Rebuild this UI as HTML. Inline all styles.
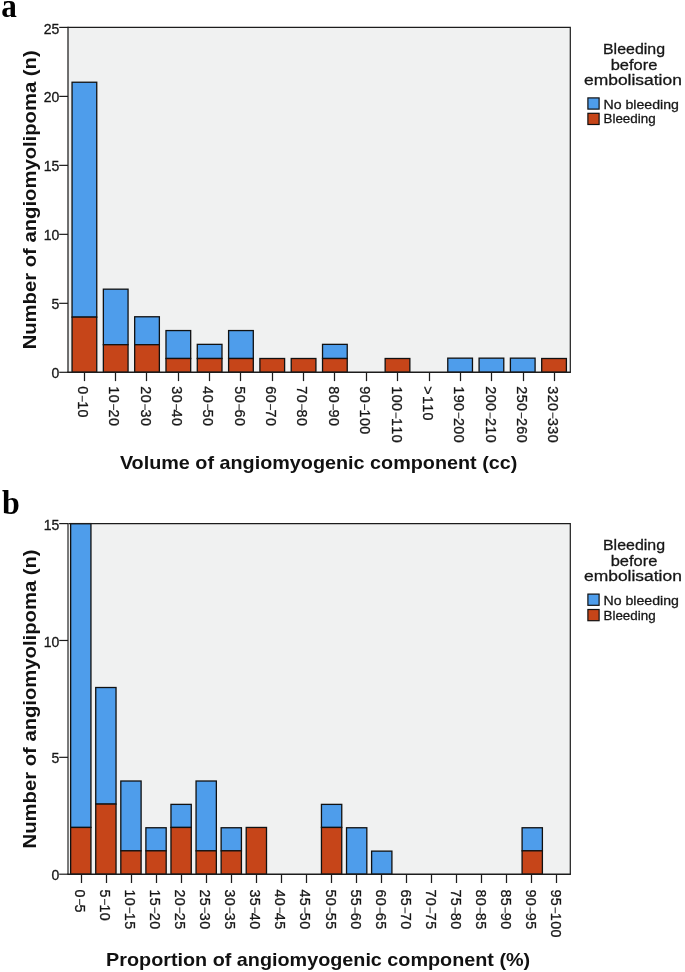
<!DOCTYPE html>
<html><head><meta charset="utf-8"><style>
html,body{margin:0;padding:0;background:#fff;}
svg{display:block;will-change:transform;}
text{font-family:"Liberation Sans", sans-serif;}
.r{fill:#161616;stroke:#161616;stroke-width:0.3px;}
</style></head><body>
<svg width="685" height="972" viewBox="0 0 685 972">
<rect width="685" height="972" fill="#fff"/>
<rect x="68.0" y="27.4" width="502.29999999999995" height="344.90000000000003" fill="#f0f1f1"/>
<rect x="72.05" y="82.23" width="24.70" height="234.88" fill="#4e9deb" stroke="#111" stroke-width="1.3"/>
<rect x="72.05" y="317.12" width="24.70" height="55.18" fill="#c64519" stroke="#111" stroke-width="1.3"/>
<rect x="103.36" y="289.17" width="24.70" height="55.53" fill="#4e9deb" stroke="#111" stroke-width="1.3"/>
<rect x="103.36" y="344.71" width="24.70" height="27.59" fill="#c64519" stroke="#111" stroke-width="1.3"/>
<rect x="134.67" y="316.77" width="24.70" height="27.94" fill="#4e9deb" stroke="#111" stroke-width="1.3"/>
<rect x="134.67" y="344.71" width="24.70" height="27.59" fill="#c64519" stroke="#111" stroke-width="1.3"/>
<rect x="165.98" y="330.56" width="24.70" height="27.94" fill="#4e9deb" stroke="#111" stroke-width="1.3"/>
<rect x="165.98" y="358.50" width="24.70" height="13.80" fill="#c64519" stroke="#111" stroke-width="1.3"/>
<rect x="197.29" y="344.36" width="24.70" height="14.15" fill="#4e9deb" stroke="#111" stroke-width="1.3"/>
<rect x="197.29" y="358.50" width="24.70" height="13.80" fill="#c64519" stroke="#111" stroke-width="1.3"/>
<rect x="228.60" y="330.56" width="24.70" height="27.94" fill="#4e9deb" stroke="#111" stroke-width="1.3"/>
<rect x="228.60" y="358.50" width="24.70" height="13.80" fill="#c64519" stroke="#111" stroke-width="1.3"/>
<rect x="259.91" y="358.50" width="24.70" height="13.80" fill="#c64519" stroke="#111" stroke-width="1.3"/>
<rect x="291.22" y="358.50" width="24.70" height="13.80" fill="#c64519" stroke="#111" stroke-width="1.3"/>
<rect x="322.53" y="344.36" width="24.70" height="14.15" fill="#4e9deb" stroke="#111" stroke-width="1.3"/>
<rect x="322.53" y="358.50" width="24.70" height="13.80" fill="#c64519" stroke="#111" stroke-width="1.3"/>
<rect x="385.15" y="358.50" width="24.70" height="13.80" fill="#c64519" stroke="#111" stroke-width="1.3"/>
<rect x="447.77" y="358.15" width="24.70" height="14.15" fill="#4e9deb" stroke="#111" stroke-width="1.3"/>
<rect x="479.08" y="358.15" width="24.70" height="14.15" fill="#4e9deb" stroke="#111" stroke-width="1.3"/>
<rect x="510.39" y="358.15" width="24.70" height="14.15" fill="#4e9deb" stroke="#111" stroke-width="1.3"/>
<rect x="541.70" y="358.50" width="24.70" height="13.80" fill="#c64519" stroke="#111" stroke-width="1.3"/>
<path d="M68.0 27.4H570.3V372.3" fill="none" stroke="#1c1c1c" stroke-width="1.2"/>
<path d="M68.0 26.799999999999997V372.3" fill="none" stroke="#262626" stroke-width="1.3"/>
<path d="M67.4 372.3H570.9" fill="none" stroke="#1c1c1c" stroke-width="1.4"/>
<path d="M59.2 372.30H68.0" stroke="#1c1c1c" stroke-width="1.2"/>
<text x="59.3" y="378.40" text-anchor="end" font-size="14" class="r">0</text>
<path d="M59.2 303.32H68.0" stroke="#1c1c1c" stroke-width="1.2"/>
<text x="59.3" y="309.42" text-anchor="end" font-size="14" class="r">5</text>
<path d="M59.2 234.34H68.0" stroke="#1c1c1c" stroke-width="1.2"/>
<text x="59.3" y="240.44" text-anchor="end" font-size="14" class="r">10</text>
<path d="M59.2 165.36H68.0" stroke="#1c1c1c" stroke-width="1.2"/>
<text x="59.3" y="171.46" text-anchor="end" font-size="14" class="r">15</text>
<path d="M59.2 96.38H68.0" stroke="#1c1c1c" stroke-width="1.2"/>
<text x="59.3" y="102.48" text-anchor="end" font-size="14" class="r">20</text>
<path d="M59.2 27.40H68.0" stroke="#1c1c1c" stroke-width="1.2"/>
<text x="59.3" y="33.50" text-anchor="end" font-size="14" class="r">25</text>
<path d="M84.50 372.3V381.10" stroke="#1c1c1c" stroke-width="1.25"/>
<g transform="translate(77.80,386.90) rotate(90)"><text x="-0.60 14.35 22.70" y="0" font-size="14.3" class="r">010</text><rect x="8.85" y="-5.0" width="6" height="1.1" fill="#333"/></g>
<path d="M115.50 372.3V381.10" stroke="#1c1c1c" stroke-width="1.25"/>
<g transform="translate(109.17,386.90) rotate(90)"><text x="-0.60 7.75 22.70 31.05" y="0" font-size="14.3" class="r">1020</text><rect x="17.20" y="-5.0" width="6" height="1.1" fill="#333"/></g>
<path d="M146.50 372.3V381.10" stroke="#1c1c1c" stroke-width="1.25"/>
<g transform="translate(140.54,386.90) rotate(90)"><text x="-0.60 7.75 22.70 31.05" y="0" font-size="14.3" class="r">2030</text><rect x="17.20" y="-5.0" width="6" height="1.1" fill="#333"/></g>
<path d="M178.50 372.3V381.10" stroke="#1c1c1c" stroke-width="1.25"/>
<g transform="translate(171.91,386.90) rotate(90)"><text x="-0.60 7.75 22.70 31.05" y="0" font-size="14.3" class="r">3040</text><rect x="17.20" y="-5.0" width="6" height="1.1" fill="#333"/></g>
<path d="M209.50 372.3V381.10" stroke="#1c1c1c" stroke-width="1.25"/>
<g transform="translate(203.28,386.90) rotate(90)"><text x="-0.60 7.75 22.70 31.05" y="0" font-size="14.3" class="r">4050</text><rect x="17.20" y="-5.0" width="6" height="1.1" fill="#333"/></g>
<path d="M240.50 372.3V381.10" stroke="#1c1c1c" stroke-width="1.25"/>
<g transform="translate(234.65,386.90) rotate(90)"><text x="-0.60 7.75 22.70 31.05" y="0" font-size="14.3" class="r">5060</text><rect x="17.20" y="-5.0" width="6" height="1.1" fill="#333"/></g>
<path d="M272.50 372.3V381.10" stroke="#1c1c1c" stroke-width="1.25"/>
<g transform="translate(266.02,386.90) rotate(90)"><text x="-0.60 7.75 22.70 31.05" y="0" font-size="14.3" class="r">6070</text><rect x="17.20" y="-5.0" width="6" height="1.1" fill="#333"/></g>
<path d="M303.50 372.3V381.10" stroke="#1c1c1c" stroke-width="1.25"/>
<g transform="translate(297.39,386.90) rotate(90)"><text x="-0.60 7.75 22.70 31.05" y="0" font-size="14.3" class="r">7080</text><rect x="17.20" y="-5.0" width="6" height="1.1" fill="#333"/></g>
<path d="M334.50 372.3V381.10" stroke="#1c1c1c" stroke-width="1.25"/>
<g transform="translate(328.76,386.90) rotate(90)"><text x="-0.60 7.75 22.70 31.05" y="0" font-size="14.3" class="r">8090</text><rect x="17.20" y="-5.0" width="6" height="1.1" fill="#333"/></g>
<path d="M366.50 372.3V381.10" stroke="#1c1c1c" stroke-width="1.25"/>
<g transform="translate(360.13,386.90) rotate(90)"><text x="-0.60 7.75 22.70 31.05 39.40" y="0" font-size="14.3" class="r">90100</text><rect x="17.20" y="-5.0" width="6" height="1.1" fill="#333"/></g>
<path d="M397.50 372.3V381.10" stroke="#1c1c1c" stroke-width="1.25"/>
<g transform="translate(391.50,386.90) rotate(90)"><text x="-0.60 7.75 16.10 31.05 39.40 47.75" y="0" font-size="14.3" class="r">100110</text><rect x="25.55" y="-5.0" width="6" height="1.1" fill="#333"/></g>
<path d="M429.50 372.3V381.10" stroke="#1c1c1c" stroke-width="1.25"/>
<g transform="translate(422.87,386.90) rotate(90)"><text x="-0.60 9.00 17.35 25.70" y="0" font-size="14.3" class="r">&gt;110</text></g>
<path d="M460.50 372.3V381.10" stroke="#1c1c1c" stroke-width="1.25"/>
<g transform="translate(454.24,386.90) rotate(90)"><text x="-0.60 7.75 16.10 31.05 39.40 47.75" y="0" font-size="14.3" class="r">190200</text><rect x="25.55" y="-5.0" width="6" height="1.1" fill="#333"/></g>
<path d="M491.50 372.3V381.10" stroke="#1c1c1c" stroke-width="1.25"/>
<g transform="translate(485.61,386.90) rotate(90)"><text x="-0.60 7.75 16.10 31.05 39.40 47.75" y="0" font-size="14.3" class="r">200210</text><rect x="25.55" y="-5.0" width="6" height="1.1" fill="#333"/></g>
<path d="M523.50 372.3V381.10" stroke="#1c1c1c" stroke-width="1.25"/>
<g transform="translate(516.98,386.90) rotate(90)"><text x="-0.60 7.75 16.10 31.05 39.40 47.75" y="0" font-size="14.3" class="r">250260</text><rect x="25.55" y="-5.0" width="6" height="1.1" fill="#333"/></g>
<path d="M554.50 372.3V381.10" stroke="#1c1c1c" stroke-width="1.25"/>
<g transform="translate(548.35,386.90) rotate(90)"><text x="-0.60 7.75 16.10 31.05 39.40 47.75" y="0" font-size="14.3" class="r">320330</text><rect x="25.55" y="-5.0" width="6" height="1.1" fill="#333"/></g>
<text x="119.9" y="468.8" font-size="19" font-weight="bold" fill="#111" textLength="397.5" lengthAdjust="spacingAndGlyphs">Volume of angiomyogenic component (cc)</text>
<text transform="translate(36.2,199.85) rotate(-90)" text-anchor="middle" font-size="19" font-weight="bold" fill="#111" textLength="299" lengthAdjust="spacingAndGlyphs">Number of angiomyolipoma (n)</text>
<text x="603" y="54.10" font-size="15.3" class="r" textLength="62" lengthAdjust="spacingAndGlyphs">Bleeding</text>
<text x="610.7" y="70.00" font-size="15.3" class="r" textLength="46.7" lengthAdjust="spacingAndGlyphs">before</text>
<text x="584.0" y="85.20" font-size="15.3" class="r" textLength="97.9" lengthAdjust="spacingAndGlyphs">embolisation</text>
<rect x="587.9" y="97.90" width="11.2" height="11.2" fill="#4e9deb" stroke="#111" stroke-width="1.2"/>
<rect x="587.9" y="113.30" width="11.2" height="11.2" fill="#c64519" stroke="#111" stroke-width="1.2"/>
<text x="603.5" y="108.60" font-size="13.6" class="r" textLength="75.4" lengthAdjust="spacingAndGlyphs">No bleeding</text>
<text x="603.5" y="123.40" font-size="13.6" class="r" textLength="52.1" lengthAdjust="spacingAndGlyphs">Bleeding</text>
<text transform="translate(1.2,17.3) scale(0.92,1)" style='font-family:"Liberation Serif", serif' font-size="34" font-weight="bold" fill="#000">a</text>
<rect x="68.0" y="523.6" width="502.29999999999995" height="350.6" fill="#f0f1f1"/>
<rect x="70.65" y="523.60" width="20.30" height="303.85" fill="#4e9deb" stroke="#111" stroke-width="1.3"/>
<rect x="70.65" y="827.45" width="20.30" height="46.75" fill="#c64519" stroke="#111" stroke-width="1.3"/>
<rect x="95.73" y="687.51" width="20.30" height="116.57" fill="#4e9deb" stroke="#111" stroke-width="1.3"/>
<rect x="95.73" y="804.08" width="20.30" height="70.12" fill="#c64519" stroke="#111" stroke-width="1.3"/>
<rect x="120.81" y="781.01" width="20.30" height="69.82" fill="#4e9deb" stroke="#111" stroke-width="1.3"/>
<rect x="120.81" y="850.83" width="20.30" height="23.37" fill="#c64519" stroke="#111" stroke-width="1.3"/>
<rect x="145.89" y="827.75" width="20.30" height="23.07" fill="#4e9deb" stroke="#111" stroke-width="1.3"/>
<rect x="145.89" y="850.83" width="20.30" height="23.37" fill="#c64519" stroke="#111" stroke-width="1.3"/>
<rect x="170.97" y="804.38" width="20.30" height="23.07" fill="#4e9deb" stroke="#111" stroke-width="1.3"/>
<rect x="170.97" y="827.45" width="20.30" height="46.75" fill="#c64519" stroke="#111" stroke-width="1.3"/>
<rect x="196.05" y="781.01" width="20.30" height="69.82" fill="#4e9deb" stroke="#111" stroke-width="1.3"/>
<rect x="196.05" y="850.83" width="20.30" height="23.37" fill="#c64519" stroke="#111" stroke-width="1.3"/>
<rect x="221.13" y="827.75" width="20.30" height="23.07" fill="#4e9deb" stroke="#111" stroke-width="1.3"/>
<rect x="221.13" y="850.83" width="20.30" height="23.37" fill="#c64519" stroke="#111" stroke-width="1.3"/>
<rect x="246.21" y="827.45" width="20.30" height="46.75" fill="#c64519" stroke="#111" stroke-width="1.3"/>
<rect x="321.45" y="804.38" width="20.30" height="23.07" fill="#4e9deb" stroke="#111" stroke-width="1.3"/>
<rect x="321.45" y="827.45" width="20.30" height="46.75" fill="#c64519" stroke="#111" stroke-width="1.3"/>
<rect x="346.53" y="827.75" width="20.30" height="46.45" fill="#4e9deb" stroke="#111" stroke-width="1.3"/>
<rect x="371.61" y="851.13" width="20.30" height="23.07" fill="#4e9deb" stroke="#111" stroke-width="1.3"/>
<rect x="522.09" y="827.75" width="20.30" height="23.07" fill="#4e9deb" stroke="#111" stroke-width="1.3"/>
<rect x="522.09" y="850.83" width="20.30" height="23.37" fill="#c64519" stroke="#111" stroke-width="1.3"/>
<path d="M68.0 523.6H570.3V874.2" fill="none" stroke="#1c1c1c" stroke-width="1.2"/>
<path d="M68.0 523.0V874.2" fill="none" stroke="#5a5a5a" stroke-width="1.6"/>
<path d="M67.4 874.2H570.9" fill="none" stroke="#1c1c1c" stroke-width="1.4"/>
<path d="M59.2 874.20H68.0" stroke="#1c1c1c" stroke-width="1.2"/>
<text x="59.3" y="880.30" text-anchor="end" font-size="14" class="r">0</text>
<path d="M59.2 757.33H68.0" stroke="#1c1c1c" stroke-width="1.2"/>
<text x="59.3" y="763.43" text-anchor="end" font-size="14" class="r">5</text>
<path d="M59.2 640.47H68.0" stroke="#1c1c1c" stroke-width="1.2"/>
<text x="59.3" y="646.57" text-anchor="end" font-size="14" class="r">10</text>
<path d="M59.2 523.60H68.0" stroke="#1c1c1c" stroke-width="1.2"/>
<text x="59.3" y="529.70" text-anchor="end" font-size="14" class="r">15</text>
<path d="M81.50 874.2V883.00" stroke="#1c1c1c" stroke-width="1.25"/>
<g transform="translate(75.20,890.10) rotate(90)"><text x="-0.60 14.35" y="0" font-size="14.3" class="r">05</text><rect x="8.85" y="-5.0" width="6" height="1.1" fill="#333"/></g>
<path d="M106.50 874.2V883.00" stroke="#1c1c1c" stroke-width="1.25"/>
<g transform="translate(100.23,890.10) rotate(90)"><text x="-0.60 14.35 22.70" y="0" font-size="14.3" class="r">510</text><rect x="8.85" y="-5.0" width="6" height="1.1" fill="#333"/></g>
<path d="M131.50 874.2V883.00" stroke="#1c1c1c" stroke-width="1.25"/>
<g transform="translate(125.26,890.10) rotate(90)"><text x="-0.60 7.75 22.70 31.05" y="0" font-size="14.3" class="r">1015</text><rect x="17.20" y="-5.0" width="6" height="1.1" fill="#333"/></g>
<path d="M156.50 874.2V883.00" stroke="#1c1c1c" stroke-width="1.25"/>
<g transform="translate(150.29,890.10) rotate(90)"><text x="-0.60 7.75 22.70 31.05" y="0" font-size="14.3" class="r">1520</text><rect x="17.20" y="-5.0" width="6" height="1.1" fill="#333"/></g>
<path d="M181.50 874.2V883.00" stroke="#1c1c1c" stroke-width="1.25"/>
<g transform="translate(175.32,890.10) rotate(90)"><text x="-0.60 7.75 22.70 31.05" y="0" font-size="14.3" class="r">2025</text><rect x="17.20" y="-5.0" width="6" height="1.1" fill="#333"/></g>
<path d="M206.50 874.2V883.00" stroke="#1c1c1c" stroke-width="1.25"/>
<g transform="translate(200.35,890.10) rotate(90)"><text x="-0.60 7.75 22.70 31.05" y="0" font-size="14.3" class="r">2530</text><rect x="17.20" y="-5.0" width="6" height="1.1" fill="#333"/></g>
<path d="M231.50 874.2V883.00" stroke="#1c1c1c" stroke-width="1.25"/>
<g transform="translate(225.38,890.10) rotate(90)"><text x="-0.60 7.75 22.70 31.05" y="0" font-size="14.3" class="r">3035</text><rect x="17.20" y="-5.0" width="6" height="1.1" fill="#333"/></g>
<path d="M256.50 874.2V883.00" stroke="#1c1c1c" stroke-width="1.25"/>
<g transform="translate(250.41,890.10) rotate(90)"><text x="-0.60 7.75 22.70 31.05" y="0" font-size="14.3" class="r">3540</text><rect x="17.20" y="-5.0" width="6" height="1.1" fill="#333"/></g>
<path d="M281.50 874.2V883.00" stroke="#1c1c1c" stroke-width="1.25"/>
<g transform="translate(275.44,890.10) rotate(90)"><text x="-0.60 7.75 22.70 31.05" y="0" font-size="14.3" class="r">4045</text><rect x="17.20" y="-5.0" width="6" height="1.1" fill="#333"/></g>
<path d="M306.50 874.2V883.00" stroke="#1c1c1c" stroke-width="1.25"/>
<g transform="translate(300.47,890.10) rotate(90)"><text x="-0.60 7.75 22.70 31.05" y="0" font-size="14.3" class="r">4550</text><rect x="17.20" y="-5.0" width="6" height="1.1" fill="#333"/></g>
<path d="M331.50 874.2V883.00" stroke="#1c1c1c" stroke-width="1.25"/>
<g transform="translate(325.50,890.10) rotate(90)"><text x="-0.60 7.75 22.70 31.05" y="0" font-size="14.3" class="r">5055</text><rect x="17.20" y="-5.0" width="6" height="1.1" fill="#333"/></g>
<path d="M356.50 874.2V883.00" stroke="#1c1c1c" stroke-width="1.25"/>
<g transform="translate(350.53,890.10) rotate(90)"><text x="-0.60 7.75 22.70 31.05" y="0" font-size="14.3" class="r">5560</text><rect x="17.20" y="-5.0" width="6" height="1.1" fill="#333"/></g>
<path d="M381.50 874.2V883.00" stroke="#1c1c1c" stroke-width="1.25"/>
<g transform="translate(375.56,890.10) rotate(90)"><text x="-0.60 7.75 22.70 31.05" y="0" font-size="14.3" class="r">6065</text><rect x="17.20" y="-5.0" width="6" height="1.1" fill="#333"/></g>
<path d="M406.50 874.2V883.00" stroke="#1c1c1c" stroke-width="1.25"/>
<g transform="translate(400.59,890.10) rotate(90)"><text x="-0.60 7.75 22.70 31.05" y="0" font-size="14.3" class="r">6570</text><rect x="17.20" y="-5.0" width="6" height="1.1" fill="#333"/></g>
<path d="M431.50 874.2V883.00" stroke="#1c1c1c" stroke-width="1.25"/>
<g transform="translate(425.62,890.10) rotate(90)"><text x="-0.60 7.75 22.70 31.05" y="0" font-size="14.3" class="r">7075</text><rect x="17.20" y="-5.0" width="6" height="1.1" fill="#333"/></g>
<path d="M456.50 874.2V883.00" stroke="#1c1c1c" stroke-width="1.25"/>
<g transform="translate(450.65,890.10) rotate(90)"><text x="-0.60 7.75 22.70 31.05" y="0" font-size="14.3" class="r">7580</text><rect x="17.20" y="-5.0" width="6" height="1.1" fill="#333"/></g>
<path d="M481.50 874.2V883.00" stroke="#1c1c1c" stroke-width="1.25"/>
<g transform="translate(475.68,890.10) rotate(90)"><text x="-0.60 7.75 22.70 31.05" y="0" font-size="14.3" class="r">8085</text><rect x="17.20" y="-5.0" width="6" height="1.1" fill="#333"/></g>
<path d="M506.50 874.2V883.00" stroke="#1c1c1c" stroke-width="1.25"/>
<g transform="translate(500.71,890.10) rotate(90)"><text x="-0.60 7.75 22.70 31.05" y="0" font-size="14.3" class="r">8590</text><rect x="17.20" y="-5.0" width="6" height="1.1" fill="#333"/></g>
<path d="M531.50 874.2V883.00" stroke="#1c1c1c" stroke-width="1.25"/>
<g transform="translate(525.74,890.10) rotate(90)"><text x="-0.60 7.75 22.70 31.05" y="0" font-size="14.3" class="r">9095</text><rect x="17.20" y="-5.0" width="6" height="1.1" fill="#333"/></g>
<path d="M556.50 874.2V883.00" stroke="#1c1c1c" stroke-width="1.25"/>
<g transform="translate(550.77,890.10) rotate(90)"><text x="-0.60 7.75 22.70 31.05 39.40" y="0" font-size="14.3" class="r">95100</text><rect x="17.20" y="-5.0" width="6" height="1.1" fill="#333"/></g>
<text x="106.1" y="965.6" font-size="19" font-weight="bold" fill="#111" textLength="424.1" lengthAdjust="spacingAndGlyphs">Proportion of angiomyogenic component (%)</text>
<text transform="translate(36.2,698.90) rotate(-90)" text-anchor="middle" font-size="19" font-weight="bold" fill="#111" textLength="299" lengthAdjust="spacingAndGlyphs">Number of angiomyolipoma (n)</text>
<text x="603" y="550.30" font-size="15.3" class="r" textLength="62" lengthAdjust="spacingAndGlyphs">Bleeding</text>
<text x="610.7" y="566.20" font-size="15.3" class="r" textLength="46.7" lengthAdjust="spacingAndGlyphs">before</text>
<text x="584.0" y="581.40" font-size="15.3" class="r" textLength="97.9" lengthAdjust="spacingAndGlyphs">embolisation</text>
<rect x="587.9" y="594.10" width="11.2" height="11.2" fill="#4e9deb" stroke="#111" stroke-width="1.2"/>
<rect x="587.9" y="609.50" width="11.2" height="11.2" fill="#c64519" stroke="#111" stroke-width="1.2"/>
<text x="603.5" y="604.80" font-size="13.6" class="r" textLength="75.4" lengthAdjust="spacingAndGlyphs">No bleeding</text>
<text x="603.5" y="619.60" font-size="13.6" class="r" textLength="52.1" lengthAdjust="spacingAndGlyphs">Bleeding</text>
<text transform="translate(2.0,513.8) scale(0.97,1)" style='font-family:"Liberation Serif", serif' font-size="33" font-weight="bold" fill="#000">b</text>
</svg>
</body></html>
